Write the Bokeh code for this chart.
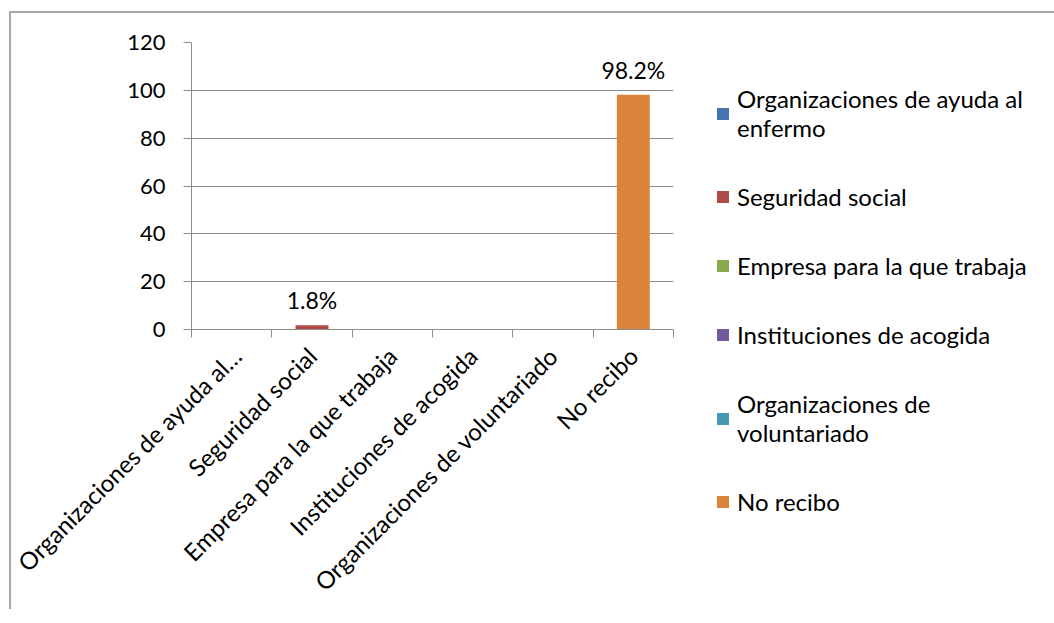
from bokeh.plotting import figure
from bokeh.models import (Range1d, LinearAxis, FixedTicker, Legend,
                          LegendItem, ColumnDataSource)
from bokeh.embed import file_html
from bokeh.resources import INLINE
from bokeh.core.properties import value, field
import math

categories = ["Organizaciones de ayuda al enfermo", "Seguridad social",
              "Empresa para la que trabaja", "Instituciones de acogida",
              "Organizaciones de voluntariado", "No recibo"]
axis_labels = ["Organizaciones de ayuda al…", "Seguridad social",
               "Empresa para la que trabaja", "Instituciones de acogida",
               "Organizaciones de voluntariado", "No recibo"]
legend_labels = ["Organizaciones de ayuda al\nenfermo", "Seguridad social",
                 "Empresa para la que trabaja", "Instituciones de acogida",
                 "Organizaciones de\nvoluntariado", "No recibo"]
values = [0, 1.8, 0, 0, 0, 98.2]
colors = ["#4674b0", "#b04a46", "#8aaa4e", "#72599a", "#4599b3", "#dd843c"]
y_ticks = [0, 20, 40, 60, 80, 100, 120]

FONT = "Lato"
GRAY = "#8c8c8c"

LEFT, TOP, FW, FH = 180, 29, 482, 287

n = len(categories)
centers = [i + 0.5 for i in range(n)]
edges = list(range(n + 1))

p = figure(frame_width=FW, frame_height=FH, x_range=Range1d(0, n),
           y_range=Range1d(0, 120), x_axis_location=None,
           output_backend="svg", toolbar_location=None,
           min_border_left=LEFT, min_border_top=TOP,
           min_border_right=370, min_border_bottom=280)
p.margin = (11, 0, 0, 9)
p.outline_line_color = None
p.background_fill_color = "white"
p.border_fill_color = "white"
p.xgrid.visible = False
p.ygrid.ticker = FixedTicker(ticks=y_ticks)
p.ygrid.grid_line_color = GRAY
p.styles = {"border-left": "2px solid #a6a6a6", "border-top": "2px solid #a6a6a6"}

ya = p.yaxis[0]
ya.ticker = FixedTicker(ticks=y_ticks)
ya.major_tick_out = 8
ya.major_tick_in = 0
ya.minor_tick_line_color = None
ya.axis_line_color = GRAY
ya.major_tick_line_color = GRAY
ya.major_label_text_font = FONT
ya.major_label_text_font_size = "22px"
ya.major_label_text_color = "black"
ya.major_label_standoff = 18

# category axis: labels at bar centres, tick marks at category boundaries
cat_axis = LinearAxis(ticker=FixedTicker(ticks=centers, minor_ticks=edges),
                      axis_line_color=GRAY, major_tick_line_color=None,
                      major_tick_out=8, major_tick_in=0,
                      minor_tick_line_color=GRAY, minor_tick_out=8, minor_tick_in=0,
                      major_label_orientation=math.pi / 4,
                      major_label_text_font=FONT,
                      major_label_text_font_size="24px",
                      major_label_text_color="black",
                      major_label_standoff=14,
                      major_label_overrides={c: l for c, l in zip(centers, axis_labels)})
p.add_layout(cat_axis, "below")

src = ColumnDataSource(dict(x=centers, cat=categories, val=values, color=colors, leg=legend_labels))
r = p.vbar(x="x", top="val", width=0.41, fill_color="color", line_color=None, source=src)

lab_x = [c for c, v in zip(centers, values) if v > 0]
lab_vals = [v for v in values if v > 0]
lab_txt = [f"{v}%" for v in lab_vals]
lsrc = ColumnDataSource(dict(x=lab_x, val=lab_vals, txt=lab_txt))
p.text(x="x", y="val", text="txt", source=lsrc, text_align="center",
       text_baseline="bottom", y_offset=-11, text_font=value(FONT),
       text_font_size="23px", text_color="black")

legend = Legend(items=[LegendItem(label=field("leg"), renderers=[r])],
                location="top_left", orientation="vertical",
                label_text_font=FONT, label_text_font_size="24px",
                label_text_color="black",
                glyph_width=15, glyph_height=15, label_standoff=7,
                spacing=40, padding=0, margin=42,
                border_line_color=None, background_fill_alpha=0)
p.add_layout(legend, "right")

open("out.html", "w").write(file_html(p, INLINE))
